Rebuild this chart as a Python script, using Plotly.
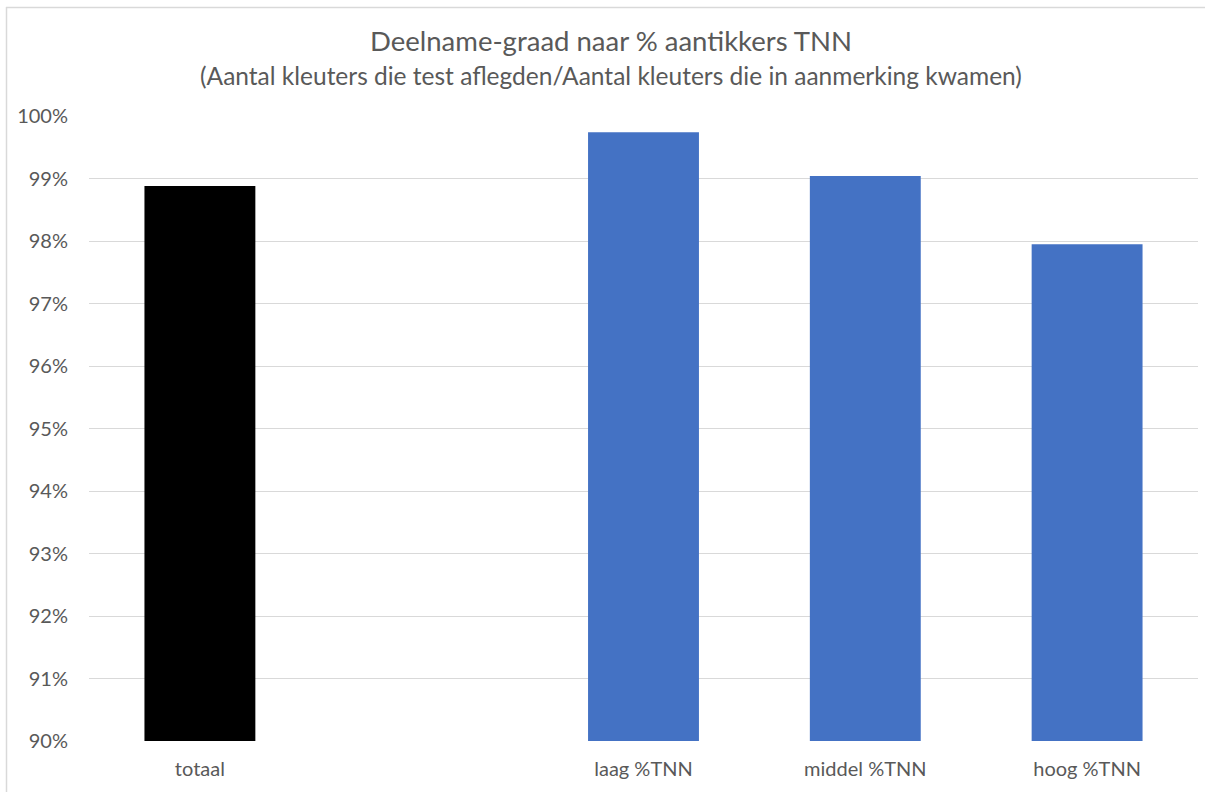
import plotly.graph_objects as go

categories = ["totaal", " ", "laag %TNN", "middel %TNN", "hoog %TNN"]
values = [0.9888, None, 0.9974, 0.9904, 0.9795]
colors = ["#000000", "#4472C4", "#4472C4", "#4472C4", "#4472C4"]
tick_vals = [0.90, 0.91, 0.92, 0.93, 0.94, 0.95, 0.96, 0.97, 0.98, 0.99, 1.00]
tick_text = ["90%", "91%", "92%", "93%", "94%", "95%", "96%", "97%", "98%", "99%", "100%"]
base_value = 0.90

title = "Deelname-graad naar % aantikkers TNN"
subtitle = "(Aantal kleuters die test aflegden/Aantal kleuters die in aanmerking kwamen)"

W, H = 1205, 792
ml, mr, mt, mb = 89, 7, 116, 51
pw, ph = W - ml - mr, H - mt - mb
FONT = "Lato"
GREY = "#595959"

def px_x(x):
    return (x - ml) / pw

def px_y(y):
    return 1 - (y - mt) / ph

fig = go.Figure()
fig.add_trace(go.Bar(
    x=categories,
    y=[None if v is None else v - base_value for v in values],
    base=base_value,
    marker=dict(color=colors, line=dict(width=0)),
    hoverinfo="skip",
))

fig.update_layout(
    width=W, height=H,
    margin=dict(l=ml, r=mr, t=mt, b=mb),
    paper_bgcolor="white", plot_bgcolor="white",
    bargap=0.5,
    showlegend=False,
    font=dict(family=FONT, color=GREY),
)
fig.update_xaxes(
    type="category", categoryorder="array", categoryarray=categories,
    showgrid=False, showline=False, ticks="",
    tickfont=dict(size=20, color=GREY),
    ticklabelstandoff=14,
)
fig.update_yaxes(
    range=[0.90, 1.00], tickvals=tick_vals, ticktext=tick_text,
    showgrid=True, gridcolor="#D9D9D9", gridwidth=1,
    zeroline=False, showline=False, ticks="",
    tickfont=dict(size=20, color=GREY),
    ticklabelstandoff=20,
)
fig.add_annotation(text=title, xref="paper", yref="paper",
                   x=px_x(611), y=px_y(40),
                   showarrow=False, xanchor="center", yanchor="middle",
                   font=dict(size=27.5, color=GREY, family=FONT))
fig.add_annotation(text=subtitle, xref="paper", yref="paper",
                   x=px_x(611), y=px_y(76),
                   showarrow=False, xanchor="center", yanchor="middle",
                   font=dict(size=24.5, color=GREY, family=FONT))
# chart border (top and left edges visible)
fig.add_shape(type="line", xref="paper", yref="paper",
              x0=px_x(6), x1=px_x(1210), y0=px_y(7.5), y1=px_y(7.5),
              line=dict(color="#D9D9D9", width=1.5))
fig.add_shape(type="line", xref="paper", yref="paper",
              x0=px_x(6.5), x1=px_x(6.5), y0=px_y(7), y1=px_y(800),
              line=dict(color="#D9D9D9", width=1.5))

fig.write_html("out.html", config={"displayModeBar": False},
               post_script="document.body.style.margin='0';document.body.style.overflow='hidden';")
